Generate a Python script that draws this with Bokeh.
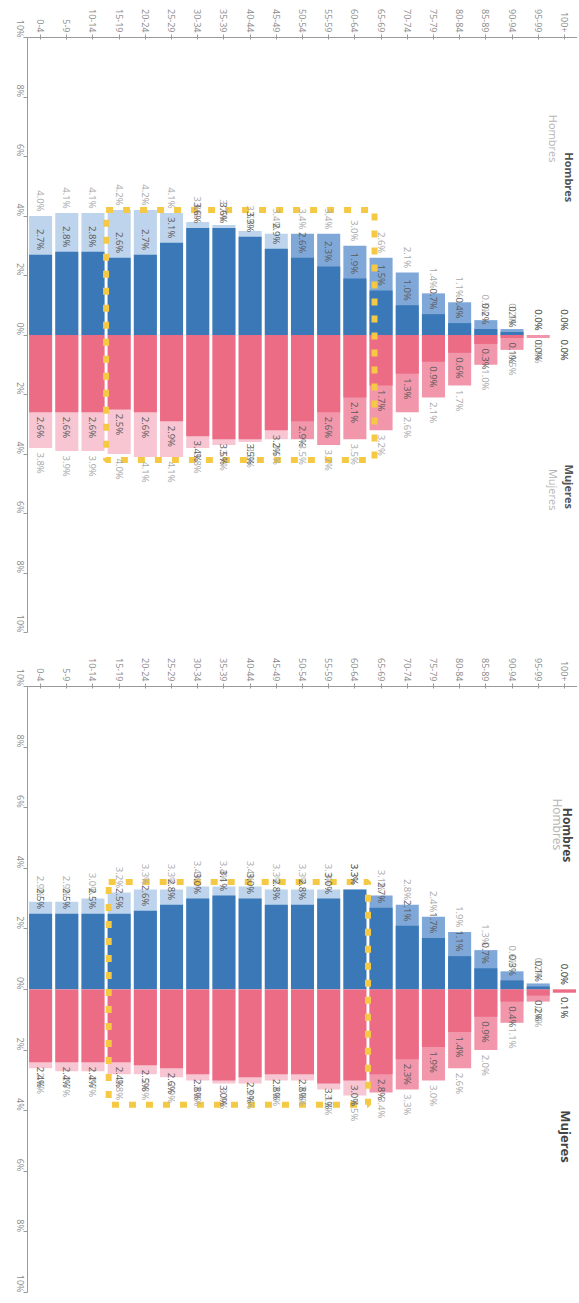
import math
from bokeh.plotting import figure
from bokeh.models import ColumnDataSource, FixedTicker, Range1d, Label
from bokeh.layouts import column
from bokeh.embed import file_html
from bokeh.resources import INLINE
from bokeh.core.properties import value

# ---------------- data ----------------
ages = ["0-4", "5-9", "10-14", "15-19", "20-24", "25-29", "30-34", "35-39",
        "40-44", "45-49", "50-54", "55-59", "60-64", "65-69", "70-74",
        "75-79", "80-84", "85-89", "90-94", "95-99", "100+"]

# upper pyramid
top_men_dark = [2.7, 2.8, 2.8, 2.6, 2.7, 3.1, 3.6, 3.6, 3.3, 2.9, 2.6, 2.3,
                1.9, 1.5, 1.0, 0.7, 0.4, 0.2, 0.1, 0.0, 0.0]
top_men_light = [4.0, 4.1, 4.1, 4.2, 4.2, 4.1, 3.8, 3.7, 3.5, 3.4, 3.4, 3.4,
                 3.0, 2.6, 2.1, 1.4, 1.1, 0.5, 0.2, 0.0, 0.0]
top_women_dark = [2.6, 2.6, 2.6, 2.5, 2.6, 2.9, 3.4, 3.5, 3.5, 3.2, 2.9, 2.6,
                  2.1, 1.7, 1.3, 0.9, 0.6, 0.3, 0.1, 0.0, 0.0]
top_women_light = [3.8, 3.9, 3.9, 4.0, 4.1, 4.1, 3.8, 3.7, 3.6, 3.5, 3.5, 3.7,
                   3.5, 3.2, 2.6, 2.1, 1.7, 1.0, 0.5, 0.1, 0.0]

# lower pyramid
bot_men_dark = [2.5, 2.5, 2.5, 2.5, 2.6, 2.8, 3.0, 3.1, 3.0, 2.8, 2.8, 3.0,
                3.3, 2.7, 2.1, 1.7, 1.1, 0.7, 0.3, 0.1, 0.0]
bot_men_light = [2.9, 2.9, 3.0, 3.2, 3.3, 3.3, 3.4, 3.4, 3.4, 3.3, 3.3, 3.3,
                 3.3, 3.1, 2.8, 2.4, 1.9, 1.3, 0.6, 0.2, 0.0]
bot_women_dark = [2.4, 2.4, 2.4, 2.4, 2.5, 2.6, 2.8, 3.0, 2.9, 2.8, 2.8, 3.1,
                  3.0, 2.8, 2.3, 1.9, 1.4, 0.9, 0.4, 0.2, 0.1]
bot_women_light = [2.6, 2.7, 2.7, 2.8, 2.8, 2.9, 3.0, 3.1, 3.1, 3.0, 3.0, 3.3,
                   3.5, 3.4, 3.3, 3.0, 2.6, 2.0, 1.1, 0.4, 0.1]

pct_ticks = [-10, -8, -6, -4, -2, 0, 2, 4, 6, 8, 10]

# ---------------- style ----------------
BLUE_DARK = "#3a78b8"
BLUE_PALE = "#bed4ec"
BLUE_MID = "#7fa8d8"
PINK_DARK = "#ec6c86"
PINK_PALE = "#f7c6d2"
PINK_MID = "#f296ab"
YELLOW = "#f6c945"
FONT = "Open Sans"
GAP = 0.15


def panel(men_dark, men_light, women_dark, women_light, height, border_top,
          border_bottom, box, titles, mid_from):
    n = len(ages)
    xs = list(range(n))
    src = ColumnDataSource(dict(
        x=xs,
        md=men_dark, ml=men_light,
        wd=[-v for v in women_dark], wl=[-v for v in women_light],
        md_y=[v + GAP for v in men_dark], ml_y=[v + GAP for v in men_light],
        wd_y=[-(v + GAP) for v in women_dark], wl_y=[-(v + GAP) for v in women_light],
        md_t=[f"{v:.1f}%" for v in men_dark], ml_t=[f"{v:.1f}%" for v in men_light],
        wd_t=[f"{v:.1f}%" for v in women_dark], wl_t=[f"{v:.1f}%" for v in women_light],
        mlc=[BLUE_MID if i >= mid_from else BLUE_PALE for i in xs],
        wlc=[PINK_MID if i >= mid_from else PINK_PALE for i in xs],
    ))
    p = figure(width=577, height=height, output_backend="svg", toolbar_location=None,
               x_range=Range1d(-0.5, 20.5), y_range=Range1d(-10, 10),
               x_axis_location="above", min_border_left=27, min_border_right=0,
               min_border_top=border_top, min_border_bottom=border_bottom)
    p.outline_line_color = None
    p.xgrid.visible = False
    p.ygrid.visible = False

    # bars
    W = 0.88
    p.vbar(x="x", top="ml", bottom=0, width=W, source=src, fill_color="mlc", line_color=None)
    p.vbar(x="x", top="md", bottom=0, width=W, source=src, fill_color=BLUE_DARK, line_color=None)
    p.vbar(x="x", top=0, bottom="wl", width=W, source=src, fill_color="wlc", line_color=None)
    p.vbar(x="x", top=0, bottom="wd", width=W, source=src, fill_color=PINK_DARK, line_color=None)

    # highlight box
    p.quad(left=[box[0]], right=[box[1]], bottom=[box[2]], top=[box[3]],
           fill_color=None, line_color=YELLOW, line_width=6, line_dash="7 10")

    # value labels
    common = dict(source=src, angle=-math.pi / 2, text_baseline="middle",
                  text_font=value(FONT), text_font_size="9.5px")
    p.text(x="x", y="ml_y", text="ml_t", text_align="right", text_color="#a9a9a9", **common)
    p.text(x="x", y="md_y", text="md_t", text_align="right", text_color="#5a5a5a", **common)
    p.text(x="x", y="wl_y", text="wl_t", text_align="left", text_color="#a9a9a9", **common)
    p.text(x="x", y="wd_y", text="wd_t", text_align="left", text_color="#5a5a5a", **common)

    # sex titles
    for (tx, ty, txt, bold, col, size) in titles:
        p.add_layout(Label(x=tx, y=ty, text=txt, angle=-math.pi / 2, text_align="center",
                           text_baseline="middle", text_font=FONT,
                           text_font_style="bold" if bold else "normal",
                           text_color=col, text_font_size=size))

    # axes
    xa = p.xaxis[0]
    xa.ticker = FixedTicker(ticks=xs)
    xa.major_label_overrides = {i: a for i, a in enumerate(ages)}
    xa.major_label_orientation = -math.pi / 2
    xa.major_label_text_font = FONT
    xa.major_label_text_font_size = "9px"
    xa.major_label_text_color = "#8a8a8a"
    xa.major_label_standoff = 2
    xa.axis_line_color = "#9a9a9a"
    xa.major_tick_line_color = "#9a9a9a"
    xa.major_tick_out = 3
    xa.major_tick_in = 2
    xa.minor_tick_line_color = None

    ya = p.yaxis[0]
    ya.ticker = FixedTicker(ticks=pct_ticks)
    ya.major_label_overrides = {t: f"{abs(t)}%" for t in pct_ticks}
    ya.major_label_orientation = -math.pi / 2
    ya.major_label_text_font = FONT
    ya.major_label_text_font_size = "9px"
    ya.major_label_text_color = "#8a8a8a"
    ya.major_label_standoff = 3
    ya.axis_line_color = "#9a9a9a"
    ya.major_tick_line_color = "#9a9a9a"
    ya.major_tick_out = 4
    ya.major_tick_in = 0
    ya.minor_tick_line_color = None
    return p


top_titles = [
    (19.6, 6.6, "Hombres", False, "#b5b5b5", "11px"),
    (20.2, 5.3, "Hombres", True, "#555555", "11px"),
    (19.6, -5.2, "Mujeres", False, "#b5b5b5", "11px"),
    (20.2, -5.1, "Mujeres", True, "#555555", "11px"),
]
bot_titles = [
    (19.75, 5.45, "Hombres", False, "#b5b5b5", "12px"),
    (20.1, 5.1, "Hombres", True, "#444444", "12px"),
    (20.05, -4.85, "Mujeres", True, "#444444", "13px"),
]

p1 = panel(top_men_dark, top_men_light, top_women_dark, top_women_light,
           height=650, border_top=37, border_bottom=18,
           box=(2.5, 12.75, -4.2, 4.2), titles=top_titles, mid_from=10)
p2 = panel(bot_men_dark, bot_men_light, bot_women_dark, bot_women_light,
           height=647, border_top=36, border_bottom=5,
           box=(2.6, 12.5, -3.8, 3.55), titles=bot_titles, mid_from=13)

layout = column(p1, p2, spacing=0)
open("out.html", "w").write(file_html(layout, INLINE))
